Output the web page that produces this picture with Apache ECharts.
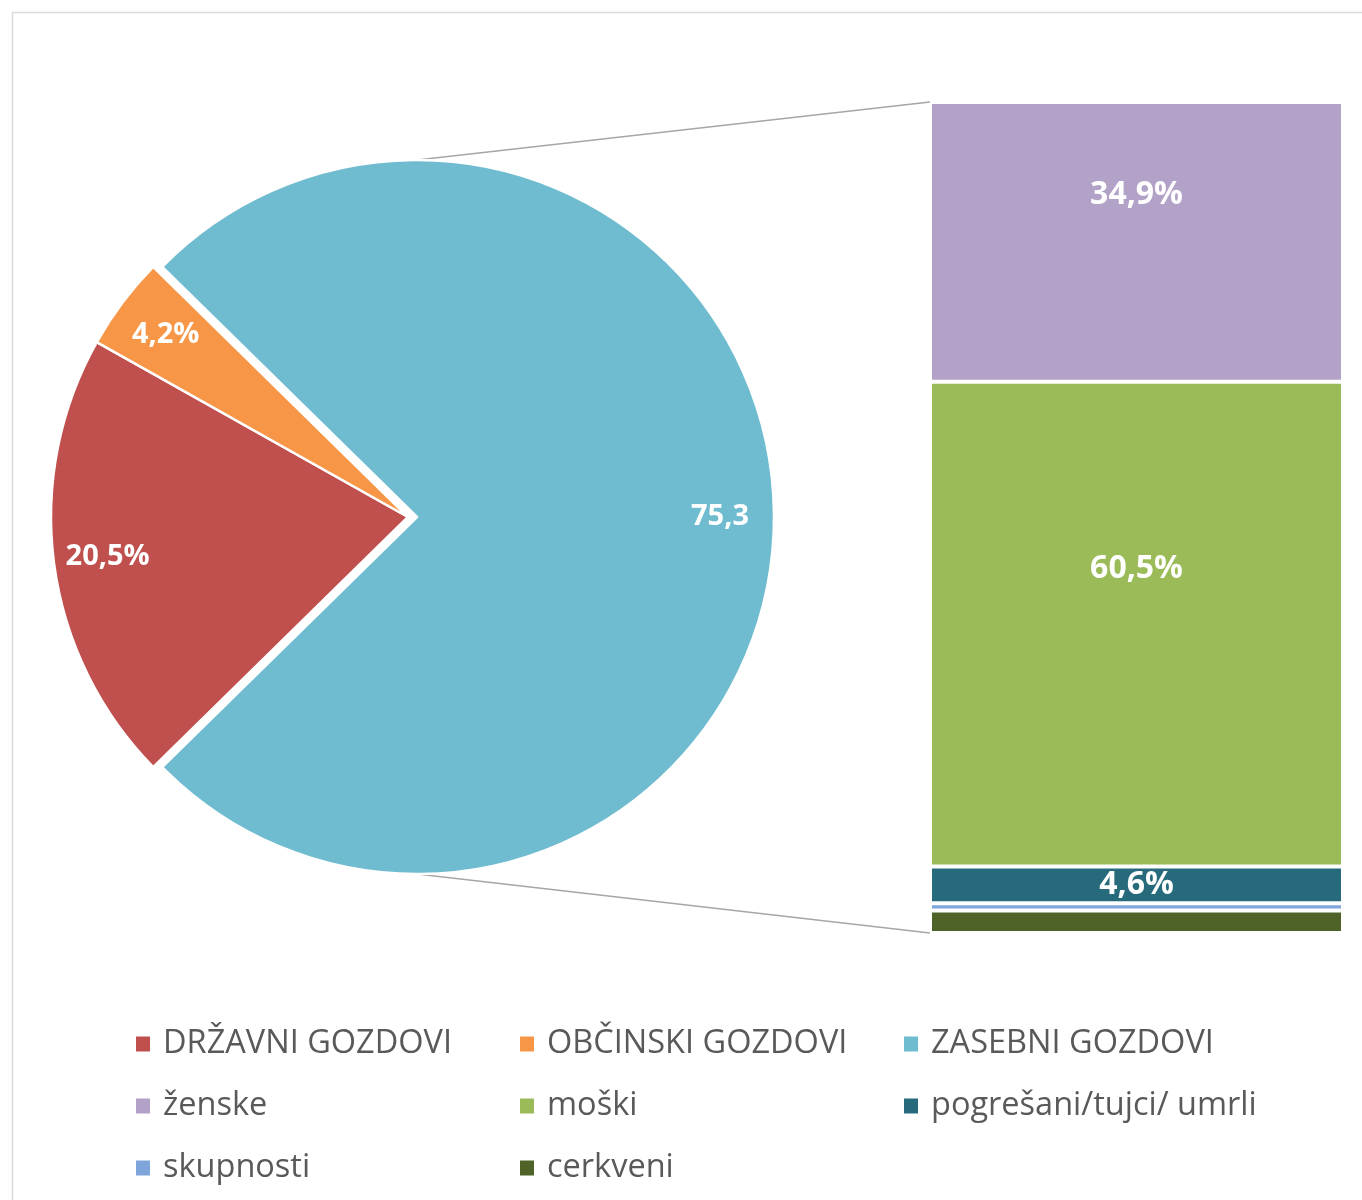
<!DOCTYPE html>
<html>
<head>
<meta charset="utf-8">
<script src="https://cdn.jsdelivr.net/npm/echarts@6/dist/echarts.min.js"></script>
<style>html,body{margin:0;padding:0;background:#fff;}#c{width:1362px;height:1200px;}</style>
</head>
<body>
<div id="c"></div>
<script>
// ---- data ----
var pieNames = ['DRŽAVNI GOZDOVI', 'OBČINSKI GOZDOVI', 'ZASEBNI GOZDOVI'];
var pieValues = [20.5, 4.2, 75.3];
var pieColors = ['#C0504D', '#F79646', '#6FBCD0'];
var pieLabelSuffix = ['%', '%', ''];

var barNames = ['ženske', 'moški', 'pogrešani/tujci/ umrli', 'skupnosti', 'cerkveni'];
var barValues = [34.9, 60.5, 4.6, 0.9, 2.8];
var barColors = ['#B2A2C7', '#9BBB59', '#276A7C', '#7EA6DC', '#4F6228'];
var barShowLabel = [true, true, true, false, false];
var barLabelShift = [-47, -55, 0, 0, 0];

// ---- layout ----
var cx = 408, cy = 517, R = 357, explode = 9;
var gridLeft = 930, gridRight = 19, gridTop = 102, gridBottom = 267;
var W = 1362, H = 1200;

function fmt(v) { return v.toFixed(1).replace('.', ','); }

var total = barValues.reduce(function (a, b) { return a + b; }, 0);
var otherShare = (pieValues[0] + pieValues[1]) / pieValues.reduce(function (a, b) { return a + b; }, 0);
var startAngle = 180 + otherShare * 360 / 2;

var pieData = pieNames.map(function (n, i) {
  return { name: n, value: pieValues[i], selected: i === 2, itemStyle: { color: pieColors[i] } };
});
var pieLabelData = pieNames.map(function (n, i) {
  return {
    name: n, value: pieValues[i], selected: i === 2,
    label: { formatter: fmt(pieValues[i]) + pieLabelSuffix[i] }
  };
});

// stacked from bottom: reverse order
var barSeries = [];
for (var i = barNames.length - 1; i >= 0; i--) {
  barSeries.push({
    type: 'bar', name: barNames[i], stack: 'total', barWidth: '100%',
    data: [barValues[i]],
    itemStyle: { color: barColors[i], borderColor: '#fff', borderWidth: 2 },
    label: {
      show: barShowLabel[i], position: 'inside', offset: [0, barLabelShift[i]],
      formatter: fmt(barValues[i]) + '%',
      color: '#fff', fontFamily: 'Open Sans', fontWeight: 'bold', fontSize: 32
    },
    silent: true
  });
}

var legendCols = [
  ['DRŽAVNI GOZDOVI', 'ženske', 'skupnosti'],
  ['OBČINSKI GOZDOVI', 'moški', 'cerkveni'],
  ['ZASEBNI GOZDOVI', 'pogrešani/tujci/ umrli']
];
var legendLefts = [129, 513, 897];
var legends = legendCols.map(function (col, k) {
  return {
    data: col, orient: 'vertical', left: legendLefts[k], top: 1019,
    icon: 'rect', itemWidth: 16, itemHeight: 17, itemGap: 22,
    selectedMode: false,
    textStyle: { fontFamily: 'Open Sans', fontSize: 32.5, color: '#595959', lineHeight: 40, padding: [0, 0, 0, 7] }
  };
});

var chart = echarts.init(document.getElementById('c'), null, { renderer: 'canvas' });
chart.setOption({
  backgroundColor: '#fff',
  animation: false,
  legend: legends,
  grid: { left: gridLeft, right: gridRight, top: gridTop, bottom: gridBottom },
  xAxis: { type: 'category', data: [''], show: false },
  yAxis: { type: 'value', min: 0, max: total, show: false },
  graphic: [
    { type: 'rect', shape: { x: 12.5, y: 12.5, width: W, height: H }, style: { fill: 'none', stroke: '#d9d9d9', lineWidth: 1.5 }, silent: true, z: -1 },
    { type: 'line', shape: { x1: cx + explode, y1: cy - R, x2: gridLeft, y2: gridTop }, style: { stroke: '#a6a6a6', lineWidth: 1.5 }, silent: true },
    { type: 'line', shape: { x1: cx + explode, y1: cy + R, x2: gridLeft, y2: H - gridBottom }, style: { stroke: '#a6a6a6', lineWidth: 1.5 }, silent: true }
  ],
  series: [
    {
      type: 'pie', center: [cx, cy], radius: [0, R], startAngle: startAngle, clockwise: true,
      selectedMode: 'single', selectedOffset: explode,
      data: pieData, label: { show: false }, labelLine: { show: false },
      itemStyle: { borderColor: '#fff', borderWidth: 2.5 },
      silent: true, emphasis: { disabled: true }
    },
    {
      type: 'pie', center: [cx, cy], radius: [R - 114, R], startAngle: startAngle, clockwise: true,
      selectedMode: 'single', selectedOffset: explode,
      data: pieLabelData,
      itemStyle: { color: 'rgba(0,0,0,0)', borderWidth: 0 },
      label: { show: true, position: 'inside', color: '#fff', fontFamily: 'Open Sans', fontWeight: 'bold', fontSize: 29 },
      labelLine: { show: false },
      silent: true, emphasis: { disabled: true }
    }
  ].concat(barSeries)
});
</script>
</body>
</html>
